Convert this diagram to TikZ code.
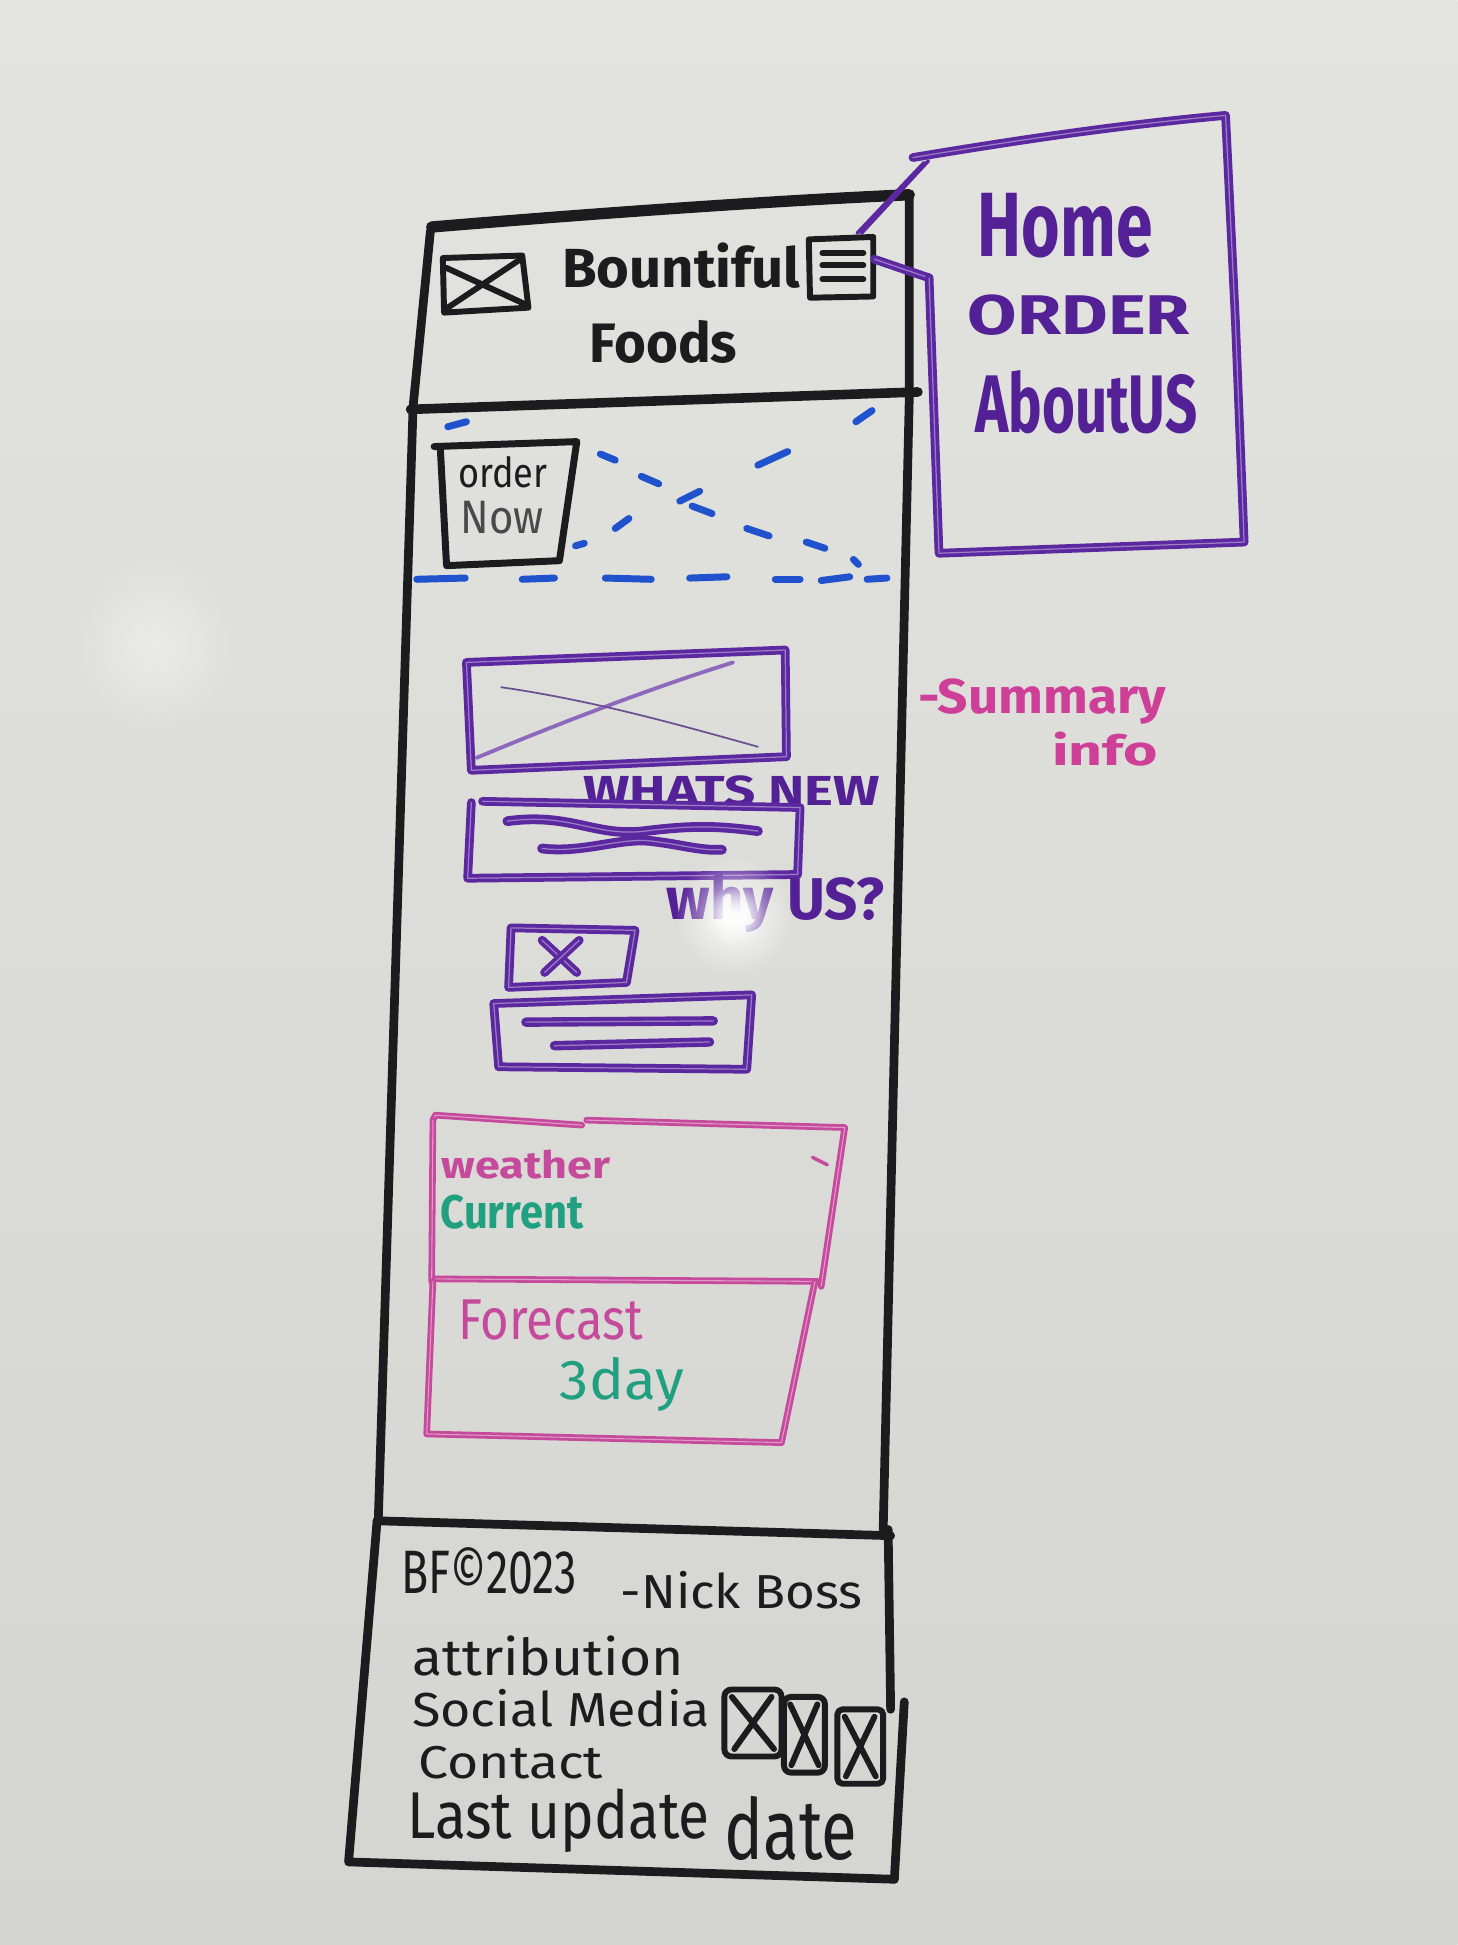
\documentclass[tikz,border=0pt]{standalone}
\usepackage{fontspec}
\setmainfont{Fira Sans}
\usepackage{graphicx}
\usetikzlibrary{fadings}

% marker colours on a whiteboard
\definecolor{boardtop}{RGB}{227,227,223}
\definecolor{boardlow}{RGB}{212,212,208}
\definecolor{ink}{RGB}{28,28,30}
\definecolor{grape}{RGB}{92,40,160}
\definecolor{grapetxt}{RGB}{84,32,150}
\definecolor{cobalt}{RGB}{32,82,205}
\definecolor{berry}{RGB}{206,64,152}
\definecolor{rose}{RGB}{198,74,156}
\definecolor{jade}{RGB}{32,160,128}

% handwriting: text squeezed into a given width and height
\newdimen\px \px=0.025cm
\newcommand\hw[3]{\resizebox{#1\px}{#2\px}{#3}}

\tikzfading[name=softglow, inner color=transparent!0, outer color=transparent!100]

\tikzset{
  blackpen/.style={draw=ink, line width=5pt, line cap=round, line join=round},
  blackfine/.style={draw=ink, line width=3.4pt, line cap=round, line join=round},
  purplepen/.style={draw=grape, line width=5pt, line cap=round, line join=round,
    postaction={draw=grape!60!white, line width=0.7pt}},
  purplethin/.style={draw=grape, line width=2pt, line cap=round},
  bluepen/.style={draw=cobalt, line width=4pt, line cap=round},
  pinkpen/.style={draw=rose, line width=3.8pt, line cap=round, line join=round,
    postaction={draw=rose!55!white, line width=0.6pt}},
  scrawl/.style={inner sep=0pt, anchor=base west},
}

\begin{document}
\begin{tikzpicture}[x=0.025cm, y=-0.025cm]
\useasboundingbox (0,0) rectangle (1175,1568);
\shade[top color=boardtop, bottom color=boardlow] (0,0) rectangle (1175,1568);
\fill[white, path fading=softglow, fill opacity=0.4] (125,520) circle (70);

% ---------- phone frame ----------
\draw[blackpen, line width=6.5pt] (348,183) .. controls (480,172) and (620,162) .. (733,157);
\draw[blackpen] (733,157) -- (733,322) -- (712,1233);
\draw[blackpen] (347,186) -- (333,328) -- (305,1224);
\draw[blackpen, line width=5.5pt] (331,330) -- (740,316);

% ---------- header ----------
\draw[blackfine] (357,208) -- (421,206) -- (426,248) -- (358,252) -- cycle;
\draw[blackfine] (358,250) -- (418,210);
\draw[blackfine] (360,216) -- (425,246);
\node[scrawl, text=ink] (brandA) at (453,232) {\hw{192}{36}{\bfseries Bountiful}};
\node[scrawl, text=ink] (brandB) at (475,292) {\hw{119}{34}{\bfseries Foods}};
\draw[blackfine] (652,193) -- (704,191) -- (704,239) -- (653,240) -- cycle;
\draw[blackfine] (663,204) -- (696,204);
\draw[blackfine] (663,214) -- (696,214);
\draw[blackfine] (663,225) -- (696,225);
\coordinate (burgerNE) at (691,188);
\coordinate (burgerE) at (705,209);

% ---------- navigation menu ----------
\coordinate (menuNW) at (745,131);
\coordinate (menuW) at (749,224);
\draw[purplethin] (burgerNE) -- (menuNW);
\draw[purplethin] ([xshift=2.5pt]burgerNE) -- ([xshift=2.5pt,yshift=1pt]menuNW);
\draw[purplepen] (burgerE) -- (menuW);
\draw[purplepen] (736,127) .. controls (820,113) and (900,101) .. (988,93)
  -- (996,260) -- (1003,437) -- (757,446) -- (menuW);
\node[scrawl, text=grapetxt] (navHome) at (788,207) {\hw{141}{51}{\bfseries Home}};
\node[scrawl, text=grapetxt] (navOrder) at (780,270) {\hw{179}{32}{\bfseries ORDER}};
\node[scrawl, text=grapetxt] (navAbout) at (786,349) {\hw{179}{50}{\bfseries AboutUS}};

% ---------- hero ----------
\draw[blackfine, line width=4pt] (350,360) -- (465,356) -- (451,452) -- (360,456) -- (355,362);
\node[scrawl, text=ink] (orderA) at (369,393) {\hw{72}{25}{order}};
\node[scrawl, text=ink!80] (orderB) at (371,430) {\hw{67}{26}{Now}};
\foreach \xa/\ya/\xb/\yb in {
  361/344/376/340, 484/366/496/371, 517/384/531/390, 558/408/574/414,
  602/426/620/432, 650/437/665/442, 688/451/692/455,
  690/340/703/331, 611/375/635/364, 548/404/564/396, 496/426/507/418, 464/440/471/438,
  336/467/375/466, 421/467/447/466, 488/466/525/467, 556/466/586/465,
  625/467/645/467, 662/468/685/465, 699/467/715/466}
  \draw[bluepen] (\xa,\ya) -- (\xb,\yb);

% ---------- what's new ----------
\draw[purplepen] (376,534) -- (633,524) -- (634,610) -- (380,621) -- cycle;
\draw[draw=grape!70!white, line width=2.2pt, line cap=round] (384,611) .. controls (470,575) and (540,550) .. (591,534);
\draw[draw=grape!55!gray, line width=1pt, line cap=round] (404,554) .. controls (480,565) and (550,585) .. (611,602);
\node[scrawl, text=grapetxt] (whatsNew) at (470,649) {\hw{239}{24}{\bfseries WHATS NEW}};
\draw[purplepen] (389,646) -- (645,651) -- (643,705) -- (377,708) -- (380,647);
\draw[purplepen, line width=5.6pt] (409,662) .. controls (460,655) and (480,675) .. (520,670)
  .. controls (560,665) and (580,666) .. (611,670);
\draw[purplepen, line width=5.6pt] (437,684) .. controls (470,688) and (500,675) .. (525,678)
  .. controls (550,681) and (565,686) .. (582,685);
\node[scrawl, text=grapetxt] (whyUs) at (537,741) {\hw{176}{36}{\bfseries why US?}};
\draw[purplepen] (412,748) -- (512,750) -- (505,792) -- (410,796) -- cycle;
\draw[purplepen] (437,758) -- (465,784);
\draw[purplepen] (467,758) -- (439,784);
\draw[purplepen] (398,809) -- (606,802) -- (602,862) -- (402,860) -- cycle;
\draw[purplepen, line width=5.4pt] (424,824) -- (575,823);
\draw[purplepen, line width=5.4pt] (447,843) -- (572,840);

% ---------- side note ----------
\node[scrawl, text=berry] (summary) at (740,575) {\hw{200}{28}{\bfseries -Summary}};
\node[scrawl, text=berry] (summaryB) at (848,617) {\hw{85}{27}{\bfseries info}};

% ---------- weather ----------
\draw[pinkpen] (349,903) -- (351,899) -- (469,907);
\draw[pinkpen] (473,903) -- (681,909) -- (662,1037);
\draw[pinkpen] (349,903) -- (348,1033);
\draw[pinkpen] (351,1031) -- (659,1033);
\draw[pinkpen] (349,1033) -- (344,1156) -- (630,1163) -- (657,1033);
\draw[draw=rose, line width=2pt, line cap=round] (655,933) -- (667,939);
\node[scrawl, text=rose] (weather) at (356,950) {\hw{136}{23}{\bfseries weather}};
\node[scrawl, text=jade] (current) at (355,990) {\hw{115}{27}{\bfseries Current}};
\node[scrawl, text=rose] (forecast) at (369,1080) {\hw{149}{32}{Forecast}};
\node[scrawl, text=jade] (threeDay) at (451,1128) {\hw{100}{34}{3day}};

% ---------- footer ----------
\draw[blackpen] (304,1226) -- (718,1238);
\draw[blackpen] (304,1226) -- (281,1501) -- (721,1515);
\draw[blackpen] (716,1233) -- (718,1378);
\draw[blackpen] (729,1372) -- (721,1515);
\node[scrawl, text=ink] (copyright) at (323,1285) {\hw{142}{37}{BF©2023}};
\node[scrawl, text=ink] (author) at (500,1297) {\hw{195}{30}{-Nick Boss}};
\node[scrawl, text=ink] (attrib) at (332,1351) {\hw{219}{32}{attribution}};
\node[scrawl, text=ink] (social) at (332,1392) {\hw{240}{30}{Social Media}};
\node[scrawl, text=ink] (contact) at (337,1434) {\hw{149}{26}{Contact}};
\node[scrawl, text=ink] (lastUpd) at (328,1482) {\hw{244}{40}{Last update}};
\node[scrawl, text=ink] (lastDate) at (584,1499) {\hw{107}{51}{date}};
\draw[blackfine, rounded corners=4pt] (584,1362) rectangle (630,1416);
\draw[blackfine] (590,1368) -- (624,1410);
\draw[blackfine] (622,1368) -- (592,1410);
\draw[blackfine, rounded corners=4pt] (632,1368) rectangle (665,1429);
\draw[blackfine] (637,1374) -- (660,1423);
\draw[blackfine] (659,1374) -- (638,1423);
\draw[blackfine, rounded corners=3pt] (675,1378) rectangle (712,1438);
\draw[blackfine] (681,1384) -- (706,1432);
\draw[blackfine] (705,1384) -- (682,1432);

% glare on the board
\fill[white, path fading=softglow, fill opacity=0.9] (592,738) circle (48);
\fill[white, path fading=softglow] (592,738) circle (24);
\end{tikzpicture}
\end{document}
